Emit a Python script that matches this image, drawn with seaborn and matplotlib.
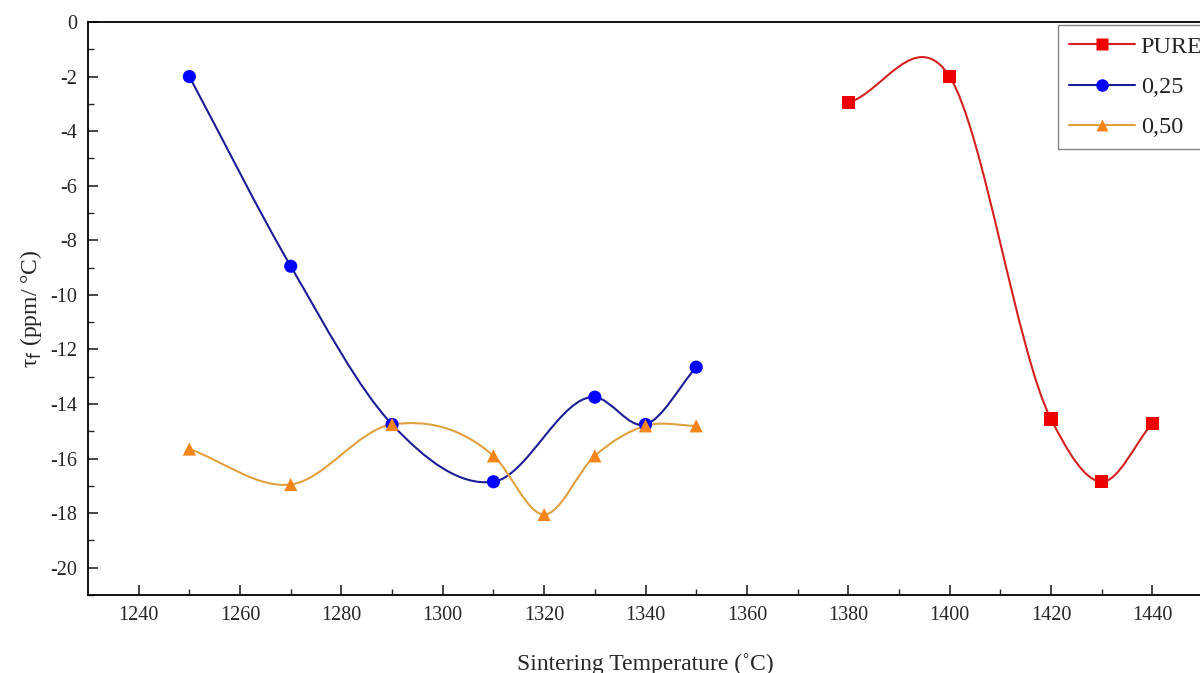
import numpy as np
import pandas as pd
import matplotlib
matplotlib.use("Agg")
import matplotlib.pyplot as plt
from matplotlib.path import Path
from matplotlib.patches import PathPatch
import seaborn as sns

# data
temp_pure = [1380, 1400, 1420, 1430, 1440]
tau_pure = [-2.95, -2.0, -14.55, -16.85, -14.7]

temp_025 = [1250, 1270, 1290, 1310, 1330, 1340, 1350]
tau_025 = [-2.0, -8.95, -14.75, -16.85, -13.75, -14.75, -12.65]

temp_050 = [1250, 1270, 1290, 1310, 1320, 1330, 1340, 1350]
tau_050 = [-15.65, -16.95, -14.75, -15.9, -18.05, -15.9, -14.8, -14.8]

labels = ["PURE", "0,25", "0,50"]


def smooth_path(x, y):
    # Hermite spline through the points, drawn as cubic Bezier segments
    x = np.asarray(x, float)
    y = np.asarray(y, float)
    m = np.gradient(y, x, edge_order=1)
    verts = [(x[0], y[0])]
    codes = [Path.MOVETO]
    for i in range(len(x) - 1):
        h = x[i + 1] - x[i]
        verts += [(x[i] + h / 3, y[i] + m[i] * h / 3),
                  (x[i + 1] - h / 3, y[i + 1] - m[i + 1] * h / 3),
                  (x[i + 1], y[i + 1])]
        codes += [Path.CURVE4] * 3
    return Path(verts, codes)


sns.set_style("ticks")
plt.rcParams['font.family'] = ['Liberation Serif', 'DejaVu Serif']
plt.rcParams['axes.unicode_minus'] = False

fig = plt.figure(figsize=(12, 6.73), dpi=100)
ax = fig.add_axes([88 / 1200, 1 - 595 / 673, 1115 / 1200, 573 / 673])

series = [
    (temp_pure, tau_pure, "#d42020", "#ee0000", "s"),
    (temp_025, tau_025, "#1c1c96", "#0000ff", "o"),
    (temp_050, tau_050, "#e0a040", "#f58518", "^"),
]

handles = []
for (tx, ty, lcol, mcol, mk), lab in zip(series, labels):
    ax.add_patch(PathPatch(smooth_path(tx, ty), facecolor="none",
                           edgecolor=lcol, lw=1.5, zorder=2))
    df = pd.DataFrame({"T": tx, "tau": ty})
    sns.scatterplot(data=df, x="T", y="tau", marker=mk, color=mcol, s=90,
                    edgecolor="none", ax=ax, zorder=3)
    handles.append(plt.Line2D([], [], color=lcol, lw=1.5, marker=mk,
                              markerfacecolor=mcol, markeredgecolor="none",
                              markersize=9))

ax.set_xlim(1230, 1450)
ax.set_ylim(-21, 0)
ax.set_xticks(np.arange(1240, 1441, 20))
ax.set_xticks(np.arange(1240, 1450, 10), minor=True)
ax.set_yticks(np.arange(-20, 1, 2))
ax.set_yticks(np.arange(-21, 0, 1), minor=True)
ax.tick_params(which="major", direction="in", length=7, width=1.2,
               labelsize=14.5, pad=8, top=False, right=False)
ax.tick_params(which="minor", direction="in", length=4, width=1.0,
               top=False, right=False)
for sp in ax.spines.values():
    sp.set_linewidth(1.3)
    sp.set_color("black")

ax.set_xlabel("Sintering Temperature (˚C)", fontsize=17, labelpad=20)
ax.set_ylabel("τ$_\\mathrm{f}$ (ppm/ °C)", fontsize=17, labelpad=4)

leg = ax.legend(handles, labels, loc="upper left",
                bbox_to_anchor=((1058 - 88) / 1115, 1 - 3 / 573),
                fontsize=17.5, handlelength=2.7, frameon=True, fancybox=False,
                borderpad=0.45, borderaxespad=0, labelspacing=0.75,
                handletextpad=0.25)
leg.get_frame().set_edgecolor("#666666")
leg.get_frame().set_linewidth(1.0)

fig.savefig("out.png", dpi=100)
